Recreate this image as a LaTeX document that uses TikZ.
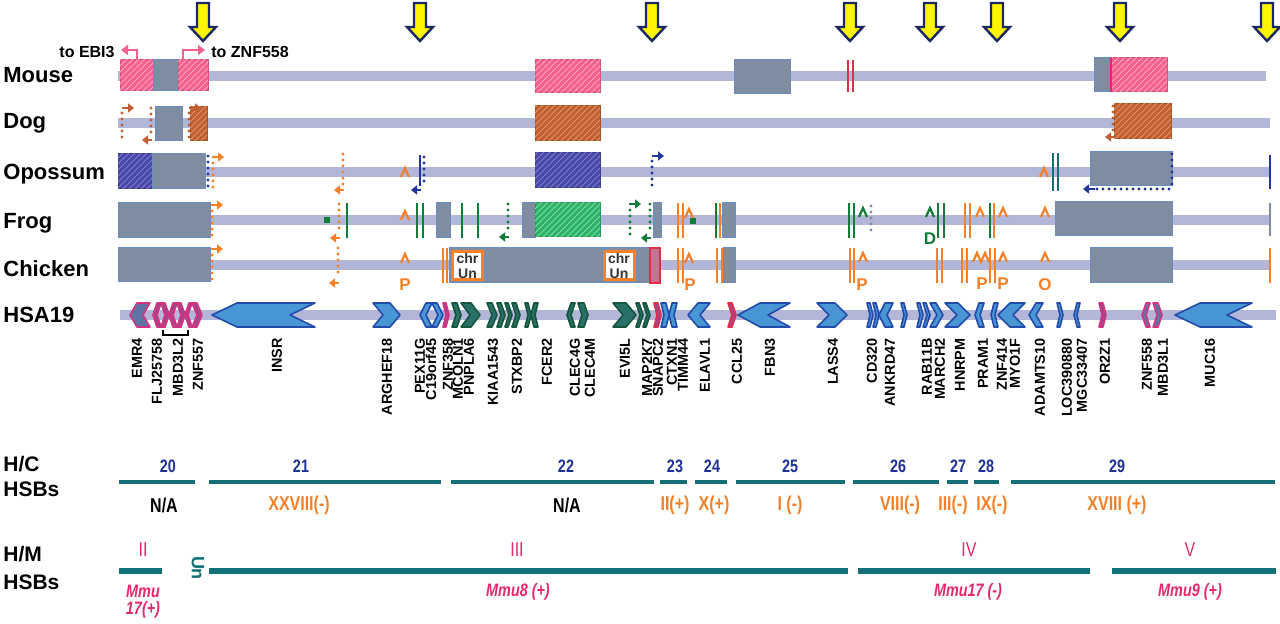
\documentclass[tikz,border=0pt]{standalone}
\usepackage{fontspec}
\setmainfont{Liberation Sans}
\usetikzlibrary{patterns,arrows.meta}
\definecolor{trackc}{RGB}{178,182,216}
\definecolor{pinkc}{RGB}{246,96,140}
\definecolor{pinkl}{RGB}{252,165,195}
\definecolor{brownc}{RGB}{192,96,50}
\definecolor{brownl}{RGB}{228,145,95}
\definecolor{bluec}{RGB}{72,72,168}
\definecolor{bluel}{RGB}{125,125,205}
\definecolor{greenbc}{RGB}{45,178,105}
\definecolor{greenl}{RGB}{125,218,165}
\definecolor{grayc}{RGB}{128,140,160}
\definecolor{grayedge}{RGB}{105,140,200}
\definecolor{orangec}{RGB}{246,128,40}
\definecolor{greenc}{RGB}{15,125,55}
\definecolor{navyc}{RGB}{35,55,155}
\definecolor{redc}{RGB}{225,45,70}
\definecolor{genefill}{RGB}{72,150,212}
\definecolor{genedge}{RGB}{35,75,170}
\definecolor{gfill}{RGB}{40,112,105}
\definecolor{gedge}{RGB}{20,85,60}
\definecolor{pedge}{RGB}{215,50,130}
\definecolor{pfill}{RGB}{160,70,140}
\definecolor{pgray}{RGB}{95,115,165}
\definecolor{tealc}{RGB}{18,112,118}
\definecolor{numc}{RGB}{30,50,150}
\definecolor{magc}{RGB}{228,40,110}
\definecolor{yell}{RGB}{255,245,0}
\definecolor{darkn}{RGB}{28,40,100}
\newcommand\genR[4][]{\path[#1] (#2,303) -- ({#3-#4},303) -- (#3,315) -- ({#3-#4},327) -- (#2,327) -- ({#2+#4},315) -- cycle;}
\newcommand\genL[4][]{\path[#1] (#3,303) -- ({#2+#4},303) -- (#2,315) -- ({#2+#4},327) -- (#3,327) -- ({#3-#4},315) -- cycle;}
\newcommand\yarr[1]{\path[yar] ({#1-6},3) -- ({#1+6},3) -- ({#1+6},27) -- ({#1+13},27) -- (#1,41) -- ({#1-13},27) -- ({#1-6},27) -- cycle;}
\newcommand\crt[3]{\path[caret=#1] ({#2-4},{#3+5}) -- (#2,{#3-4}) -- ({#2+4},{#3+5});}
\newcommand\cz[1]{\scalebox{0.8}[1]{#1}}
\tikzset{
 hbox/.style 2 args={fill=#1, draw=#1!85!black, line width=0.5pt, postaction={pattern=north east lines, pattern color=#2}},
 gbox/.style={fill=grayc, draw=grayedge, line width=0.5pt},
 bar/.style={draw=#1, line width=1.3pt},
 dots/.style={draw=#1, line width=1.6pt, line cap=round, dash pattern=on 0pt off 3pt},
 tip/.style={draw=#1, line width=1pt, -{Triangle[length=3pt,width=4.5pt]}},
 caret/.style={draw=#1, line width=1.1pt},
 yar/.style={fill=yell, draw=darkn, line width=1.2pt, line join=miter},
 gb/.style={fill=genefill, draw=genedge, line width=0.8pt, line join=round},
 gg/.style={fill=gfill, draw=gedge, line width=0.8pt, line join=round},
 gp/.style={fill=pfill, draw=pedge, line width=0.8pt, line join=round},
 gq/.style={fill=pgray, draw=pedge, line width=0.8pt, line join=round},
 gr/.style={fill=pfill, draw=redc, line width=0.8pt, line join=round},
 rowlab/.style={anchor=base west, inner sep=0, font=\fontsize{11}{12}\selectfont\bfseries},
 hlab/.style={anchor=base west, inner sep=0, font=\fontsize{10.5}{12}\selectfont\bfseries},
 gl/.style={rotate=90, anchor=east, inner sep=0, font=\fontsize{7.2}{8}\selectfont\bfseries},
 tolab/.style={inner sep=0, font=\fontsize{8}{9}\selectfont\bfseries},
 let/.style={inner sep=0, font=\fontsize{8.5}{9}\selectfont\bfseries, text=#1},
 chrun/.style={draw=orangec, line width=1.5pt, fill=white, minimum width=15pt, minimum height=14pt, inner sep=0, align=center, font=\fontsize{7}{7.5}\selectfont\bfseries, text=black!80},
 num/.style={font=\fontsize{9}{9}\selectfont\bfseries, text=numc, inner sep=0},
 rom/.style={font=\fontsize{10}{10}\selectfont\bfseries, text=orangec, inner sep=0},
 hsb/.style={draw=tealc, line width=2pt},
 hmline/.style={draw=tealc, line width=3pt},
 mm/.style={font=\fontsize{9}{10}\selectfont\bfseries\itshape, text=magc, inner sep=0},
 mr/.style={font=\fontsize{10}{10}\selectfont, text=magc, inner sep=0}
}
\begin{document}
\begin{tikzpicture}[x=0.5pt,y=-0.5pt]
\useasboundingbox[fill=white] (0,0) rectangle (1280,624);
% yellow arrows
\foreach \ax in {203,420,652,850,930,997,1120,1267} {\yarr{\ax}}
% row labels
\node[rowlab] (lMouse) at (3,83) {Mouse};
\node[rowlab] (lDog) at (3,129) {Dog};
\node[rowlab] (lOpo) at (3,180) {Opossum};
\node[rowlab] (lFrog) at (3,229) {Frog};
\node[rowlab] (lChick) at (3,277) {Chicken};
\node[rowlab] (lHSA) at (3,323) {HSA19};
% tracks
\foreach \yy/\xa/\xb in {76/118/1266,123/118/1270,172/118/1270,220/118/1270,265/118/1270,315/120/1276}
  \fill[trackc] (\xa,\yy-5) rectangle (\xb,\yy+5);
% ---------- Mouse ----------
\path[hbox={pinkc}{pinkl}] (120,60) rectangle (153,91);
\path[gbox] (153,60) rectangle (178,91);
\path[hbox={pinkc}{pinkl}] (178,60) rectangle (208,91);
\draw[pinkc, line width=1.1pt, -{Triangle[length=3.5pt,width=5pt]}] (137,60) -- (137,50) -- (121,50);
\draw[pinkc, line width=1.1pt, -{Triangle[length=3.5pt,width=5pt]}] (183,60) -- (183,50) -- (205,50);
\node[tolab, anchor=east] (tEBI) at (115,52) {to EBI3};
\node[tolab, anchor=west] (tZNF) at (211,52) {to ZNF558};
\path[hbox={pinkc}{pinkl}] (535,60) rectangle (600,93);
\path[gbox] (734,60) rectangle (790,94);
\draw[bar=redc] (848,60) -- (848,92);
\draw[bar=redc] (853,60) -- (853,92);
\path[gbox] (1094,58) rectangle (1111,92);
\path[hbox={pinkc}{pinkl}] (1111,58) rectangle (1167,92);
\draw[magc, line width=1.2pt] (1111,58) -- (1111,92);
% ---------- Dog ----------
\draw[dots=brownc] (122,113) -- (122,140);
\draw[tip=brownc] (122,108) -- (134,108);
\draw[dots=brownc] (151,108) -- (151,134);
\draw[tip=brownc] (152,140) -- (142,140);
\path[gbox] (155,107) rectangle (182,141);
\path[hbox={brownc}{brownl}] (190,107) rectangle (207,141);
\draw[dots=brownc] (189,113) -- (189,140);
\draw[tip=brownc] (189,108) -- (201,108);
\path[hbox={brownc}{brownl}] (535,106) rectangle (600,141);
\path[hbox={brownc}{brownl}] (1114,104) rectangle (1171,139);
\draw[dots=brownc] (1113,106) -- (1113,132);
\draw[tip=brownc] (1115,137) -- (1105,137);
% ---------- Opossum ----------
\path[hbox={bluec}{bluel}] (118,154) rectangle (152,189);
\path[gbox] (152,154) rectangle (205,189);
\draw[dots=navyc] (208,156) -- (208,188);
\draw[dots=orangec] (213,163) -- (213,192);
\draw[tip=orangec] (212,157) -- (224,157);
\draw[dots=orangec] (343,154) -- (343,185);
\draw[tip=orangec] (344,190) -- (334,190);
\crt{orangec}{405}{172}
\draw[bar=navyc] (420,155) -- (420,186);
\draw[dots=navyc] (424,157) -- (424,184);
\draw[tip=navyc] (421,190) -- (411,190);
\path[hbox={bluec}{bluel}] (535,153) rectangle (600,188);
\draw[dots=navyc] (652,161) -- (652,189);
\draw[tip=navyc] (652,156) -- (664,156);
\crt{orangec}{1044}{172}
\draw[bar=tealc] (1053,153) -- (1053,191);
\draw[bar=tealc] (1058,153) -- (1058,191);
\path[gbox] (1090,152) rectangle (1172,186);
\draw[dots=navyc] (1172,154) -- (1172,188);
\draw[dots=navyc] (1097,189) -- (1172,189);
\draw[tip=navyc] (1095,189) -- (1083,189);
\draw[bar=navyc] (1270,155) -- (1270,189);
% ---------- Frog ----------
\path[gbox] (118,203) rectangle (210,238);
\draw[dots=orangec] (212,211) -- (212,238);
\draw[tip=orangec] (211,205) -- (223,205);
\fill[greenc] (324,217) rectangle (330,223);
\draw[dots=orangec] (339,204) -- (339,232);
\draw[tip=orangec] (340,238) -- (330,238);
\draw[bar=greenc] (347,203) -- (347,238);
\crt{orangec}{405}{215}
\draw[bar=greenc] (417,203) -- (417,238);
\draw[bar=greenc] (423,203) -- (423,238);
\path[gbox] (436,203) rectangle (450,238);
\draw[bar=greenc] (462,203) -- (462,238);
\draw[bar=greenc] (478,203) -- (478,238);
\draw[dots=greenc] (508,204) -- (508,231);
\draw[tip=greenc] (509,237) -- (499,237);
\path[gbox] (522,203) rectangle (535,238);
\path[hbox={greenbc}{greenl}] (535,203) rectangle (600,237);
\draw[dots=greenc] (630,210) -- (630,236);
\draw[tip=greenc] (629,204) -- (641,204);
\draw[dots=greenc] (650,204) -- (650,232);
\draw[tip=greenc] (651,238) -- (641,238);
\path[gbox] (653,203) rectangle (661,238);
\draw[bar=orangec] (678,203) -- (678,238);
\draw[bar=orangec] (683,203) -- (683,238);
\crt{orangec}{689}{213}
\fill[greenc] (690,218) rectangle (696,224);
\draw[bar=greenc] (716,203) -- (716,238);
\draw[bar=orangec] (720,203) -- (720,238);
\path[gbox] (722,203) rectangle (735,238);
\draw[bar=greenc] (849,203) -- (849,238);
\draw[bar=greenc] (854,203) -- (854,238);
\crt{greenc}{863}{212}
\draw[dots=grayc] (871,206) -- (871,236);
\crt{greenc}{930}{212}
\node[let=greenc] (fD) at (930,239) {D};
\draw[bar=greenc] (938,203) -- (938,238);
\draw[bar=greenc] (944,203) -- (944,238);
\draw[bar=orangec] (965,203) -- (965,238);
\draw[bar=orangec] (970,203) -- (970,238);
\crt{orangec}{980}{212}
\draw[bar=greenc] (990,203) -- (990,238);
\draw[bar=orangec] (994,203) -- (994,238);
\crt{orangec}{1003}{212}
\crt{orangec}{1045}{212}
\path[gbox] (1055,202) rectangle (1172,236);
\draw[bar=grayc] (1270,203) -- (1270,236);
% ---------- Chicken ----------
\path[gbox] (118,248) rectangle (210,282);
\draw[dots=orangec] (212,255) -- (212,282);
\draw[tip=orangec] (211,249) -- (223,249);
\draw[dots=orangec] (338,248) -- (338,277);
\draw[tip=orangec] (339,283) -- (329,283);
\crt{orangec}{405}{258}
\node[let=orangec] (cP1) at (405,285) {P};
\draw[bar=orangec] (443,248) -- (443,283);
\draw[bar=orangec] (447,248) -- (447,283);
\path[gbox] (449,248) rectangle (650,283);
\node[chrun] (cu1) at (467.5,266) {chr\\Un};
\node[chrun] (cu2) at (619,266) {chr\\Un};
\path[fill=pinkc!60!grayc, draw=redc, line width=0.6pt] (650,248) rectangle (660,283);
\draw[bar=orangec] (678,248) -- (678,283);
\draw[bar=orangec] (683,248) -- (683,283);
\crt{orangec}{689}{258}
\node[let=orangec] (cP2) at (690,285) {P};
\draw[bar=orangec] (717,248) -- (717,283);
\draw[bar=orangec] (722,248) -- (722,283);
\path[gbox] (723,248) rectangle (735,283);
\draw[bar=orangec] (850,248) -- (850,283);
\draw[bar=orangec] (854,248) -- (854,283);
\crt{orangec}{863}{257}
\node[let=orangec] (cP3) at (862,285) {P};
\draw[bar=orangec] (937,248) -- (937,283);
\draw[bar=orangec] (942,248) -- (942,283);
\draw[bar=orangec] (962,248) -- (962,283);
\draw[bar=orangec] (967,248) -- (967,283);
\path[caret=orangec] (973,262) -- (977,253) -- (981,262) -- (985,253) -- (989,262);
\draw[bar=orangec] (990,248) -- (990,283);
\draw[bar=orangec] (995,248) -- (995,283);
\node[let=orangec] (cP4) at (982,284) {P};
\crt{orangec}{1003}{257}
\node[let=orangec] (cP5) at (1003,284) {P};
\crt{orangec}{1045}{257}
\node[let=orangec] (cO) at (1045,285) {O};
\path[gbox] (1090,248) rectangle (1172,283);
\draw[bar=orangec] (1270,248) -- (1270,283);
% ---------- HSA19 genes ----------
\genL[gq]{130}{150}{7}
\genL[gp]{153}{161}{4}
\genR[gp]{161}{169}{4}
\genL[gp]{169}{177}{4}
\genR[gp]{177}{185}{4}
\genL[gp]{185}{192}{4}
\genR[gp]{192}{202}{5}
\draw[black, line width=0.6pt] (163,330) -- (163,335) -- (188,335) -- (188,330);
\genL[gb]{212}{315}{25}
\genR[gb]{373}{400}{10}
\genL[gb]{420}{432}{6}
\genR[gb]{432}{443}{6}
\genR[gp]{443}{449}{3}
\genR[gg]{452}{461}{4}
\genR[gg]{461}{480}{9}
\genR[gg]{487}{497}{5}
\genR[gg]{497}{505}{4}
\genR[gg]{505}{512}{4}
\genR[gg]{512}{520}{4}
\genR[gg]{525}{531}{3}
\genL[gg]{531}{538}{3}
\genL[gg]{567}{575}{4}
\genR[gg]{578}{588}{4}
\genR[gg]{613}{636}{10}
\genR[gg]{636}{643}{4}
\genR[gg]{643}{650}{4}
\genR[gr]{654}{661}{3}
\genR[gb]{661}{669}{3}
\genL[gb]{669}{677}{3}
\genL[gb]{688}{710}{10}
\genR[gr]{728}{736}{4}
\genL[gb]{738}{790}{22}
\genR[gb]{817}{847}{12}
\genR[gb]{867}{873}{3}
\genR[gb]{873}{879}{3}
\genL[gb]{879}{893}{6}
\genR[gb]{901}{907}{3}
\genR[gb]{917}{923}{3}
\genR[gb]{923}{930}{4}
\genR[gb]{930}{943}{7}
\genR[gb]{945}{970}{12}
\genL[gb]{975}{984}{4}
\genL[gb]{991}{998}{3}
\genL[gb]{998}{1025}{12}
\genL[gb]{1029}{1043}{7}
\genR[gb]{1057}{1063}{3}
\genL[gb]{1074}{1080}{3}
\genR[gp]{1099}{1106}{3}
\genL[gq]{1142}{1150}{4}
\genR[gq]{1153}{1162}{4}
\genL[gb]{1175}{1252}{25}
% gene labels
\foreach \gx/\gt [count=\gi] in {137/EMR4,157/FLJ25758,178/MBD3L2,198/ZNF557,277/INSR,387/ARGHEF18,420/PEX11G,431/C19orf45,448/ZNF358,458/MCOLN1,469/PNPLA6,493/KIAA1543,517/STXBP2,547/FCER2,575/CLEC4G,590/CLEC4M,625/EVI5L,647/MAP2K7,658/SNAPC2,672/CTXN1,683/TIMM44,705/ELAVL1,737/CCL25,770/FBN3,833/LASS4,872/CD320,890/ANKRD47,927/RAB11B,940/MARCH2,960/HNRPM,983/PRAM1,1002/ZNF414,1015/MYO1F,1040/ADAMTS10,1067/LOC390880,1082/MGC33407,1105/OR2Z1,1147/ZNF558,1163/MBD3L1,1210/MUC16}
  {\node[gl] (g\gi) at (\gx,338) {\gt};}
% ---------- H/C HSBs ----------
\node[hlab] (hc1) at (3,472) {H/C};
\node[hlab] (hc2) at (3,497) {HSBs};
\path[hsb] (119,482) -- (195,482);
\node[num] (n20) at (168,466) {\cz{20}};
\node[rom, text=black] (r20) at (164,505) {\cz{N/A}};
\path[hsb] (209,482) -- (441,482);
\node[num] (n21) at (301,466) {\cz{21}};
\node[rom] (r21) at (299,505) {\cz{XXVIII(-)}};
\path[hsb] (451,482) -- (654,482);
\node[num] (n22) at (566,466) {\cz{22}};
\node[rom, text=black] (r22) at (567,505) {\cz{N/A}};
\path[hsb] (660,482) -- (687,482);
\node[num] (n23) at (675,466) {\cz{23}};
\node[rom] (r23) at (675,505) {\cz{II(+)}};
\path[hsb] (695,482) -- (727,482);
\node[num] (n24) at (712,466) {\cz{24}};
\node[rom] (r24) at (714,505) {\cz{X(+)}};
\path[hsb] (736,482) -- (845,482);
\node[num] (n25) at (790,466) {\cz{25}};
\node[rom] (r25) at (790,505) {\cz{I (-)}};
\path[hsb] (853,482) -- (939,482);
\node[num] (n26) at (898,466) {\cz{26}};
\node[rom] (r26) at (900,505) {\cz{VIII(-)}};
\path[hsb] (947,482) -- (968,482);
\node[num] (n27) at (958,466) {\cz{27}};
\node[rom] (r27) at (953,505) {\cz{III(-)}};
\path[hsb] (974,482) -- (999,482);
\node[num] (n28) at (986,466) {\cz{28}};
\node[rom] (r28) at (992,505) {\cz{IX(-)}};
\path[hsb] (1011,482) -- (1275,482);
\node[num] (n29) at (1117,466) {\cz{29}};
\node[rom] (r29) at (1117,505) {\cz{XVIII (+)}};
% ---------- H/M HSBs ----------
\node[hlab] (hm1) at (3,562) {H/M};
\node[hlab] (hm2) at (3,590) {HSBs};
\node[mr] (m2) at (143,550) {\cz{II}};
\path[hmline] (119,571) -- (162,571);
\node[mm] (mm2a) at (143,591) {\cz{Mmu}};
\node[mm] (mm2b) at (143,610) {\cz{17(+)}};
\node[rotate=-90, inner sep=0, text=tealc, font=\fontsize{9}{9}\selectfont\bfseries] (un) at (198,568) {Un};
\node[mr] (m3) at (517,550) {\cz{III}};
\path[hmline] (209,571) -- (848,571);
\node[mm] (mm3) at (518,592) {\cz{Mmu8 (+)}};
\node[mr] (m4) at (969,550) {\cz{IV}};
\path[hmline] (858,571) -- (1090,571);
\node[mm] (mm4) at (968,592) {\cz{Mmu17 (-)}};
\node[mr] (m5) at (1190,550) {\cz{V}};
\path[hmline] (1112,571) -- (1276,571);
\node[mm] (mm5) at (1190,592) {\cz{Mmu9 (+)}};
\end{tikzpicture}
\end{document}
